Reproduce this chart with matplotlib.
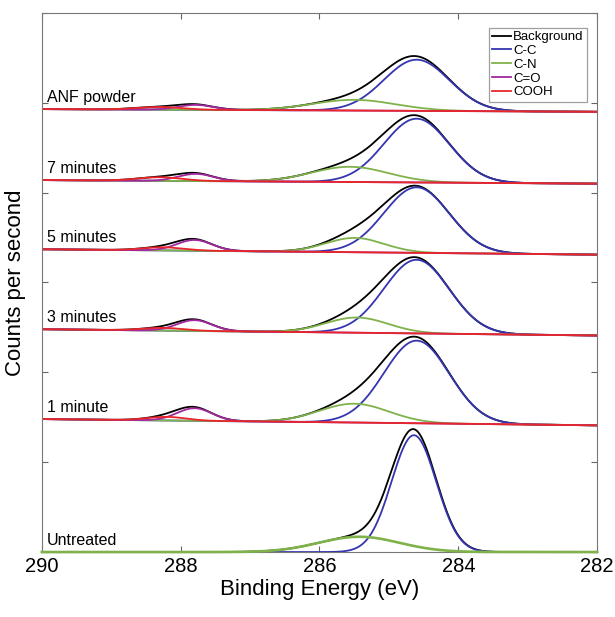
import numpy as np
import matplotlib
matplotlib.use('Agg')
import matplotlib.pyplot as plt

plt.rcParams['font.family'] = ['Liberation Sans', 'DejaVu Sans']

# spectra, bottom to top (y in stacked offset units, one tick = 1)
labels = ['Untreated', '1 minute', '3 minutes', '5 minutes', '7 minutes', 'ANF powder']
bg_left = [0.0, 1.48, 2.48, 3.37, 4.14, 4.93]    # background at 290 eV
bg_right = [0.0, 1.41, 2.41, 3.31, 4.10, 4.90]   # background at 282 eV

# fitted components: centre (eV), height, width (sigma, eV)
cc_pos = [284.64, 284.60, 284.60, 284.60, 284.60, 284.60]
cc_amp = [1.30, 0.92, 0.82, 0.73, 0.71, 0.57]
cc_sig = [0.32, 0.47, 0.47, 0.47, 0.47, 0.47]

cn_pos = [285.43, 285.50, 285.46, 285.49, 285.56, 285.50]
cn_amp = [0.17, 0.21, 0.17, 0.16, 0.17, 0.12]
cn_sig = [0.58, 0.50, 0.45, 0.42, 0.55, 0.60]

co_pos = [287.80, 287.80, 287.80, 287.80, 287.78, 287.78]
co_amp = [0.0, 0.14, 0.12, 0.12, 0.08, 0.055]
co_sig = [0.25, 0.25, 0.25, 0.25, 0.25, 0.25]

cooh_pos = [288.20, 288.20, 288.25, 288.25, 288.30, 288.30]
cooh_amp = [0.0, 0.04, 0.03, 0.035, 0.04, 0.03]
cooh_sig = [0.28, 0.28, 0.30, 0.30, 0.32, 0.32]

xticks = [290, 288, 286, 284, 282]

c_env = 'black'
c_cc = '#3535b0'
c_cn = '#7fb24a'
c_co = '#a3279e'
c_cooh = '#e8262a'


def peak(x, p, a, s):
    return a * np.exp(-(x - p) ** 2 / (2 * s ** 2))


x = np.linspace(282, 290, 600)

fig = plt.figure(figsize=(6.15, 6.17), dpi=100)
ax = fig.add_axes([0.068, 0.1053, 0.903, 0.8737])

lw = 1.3
for i, lab in enumerate(labels):
    bg = bg_right[i] + (bg_left[i] - bg_right[i]) * (x - 282) / 8.0
    cc = peak(x, cc_pos[i], cc_amp[i], cc_sig[i])
    cn = peak(x, cn_pos[i], cn_amp[i], cn_sig[i])
    co = peak(x, co_pos[i], co_amp[i], co_sig[i])
    cooh = peak(x, cooh_pos[i], cooh_amp[i], cooh_sig[i])
    env = bg + cc + cn + co + cooh
    first = (i == len(labels) - 1)
    ax.plot(x, env, color=c_env, lw=lw, label='Background' if first else None)
    ax.plot(x, bg + cc, color=c_cc, lw=lw, label='C-C' if first else None)
    if co_amp[i] > 0:
        ax.plot(x, bg + cn, color=c_cn, lw=lw, label='C-N' if first else None)
        ax.plot(x, bg + co, color=c_co, lw=lw, label='C=O' if first else None)
        ax.plot(x, bg + cooh, color=c_cooh, lw=lw, label='COOH' if first else None)
    else:
        ax.plot(x, bg + cn, color=c_cn, lw=lw + 0.6, zorder=3, clip_on=False)
    ax.text(289.93, bg_left[i] + 0.045, lab, fontsize=11.5, ha='left', va='bottom')

ax.set_xlim(290, 282)
ax.set_ylim(0, 6)
ax.set_xticks(xticks)
ax.set_xticklabels([str(t) for t in xticks], fontsize=14.5)
ax.set_yticks(range(0, 7))
ax.set_yticklabels([])
ax.tick_params(direction='in', top=True, right=True, length=4, color='#666666')
for sp in ax.spines.values():
    sp.set_color('#777777')
ax.set_xlabel('Binding Energy (eV)', fontsize=16, labelpad=2)
ax.set_ylabel('Counts per second', fontsize=16, labelpad=8)

leg = ax.legend(loc='upper right', fontsize=9.5, handlelength=1.4, handletextpad=0.15,
                labelspacing=0.12, borderpad=0.25, fancybox=False,
                bbox_to_anchor=(0.993, 0.985))
leg.get_frame().set_edgecolor('#888888')
leg.get_frame().set_linewidth(0.9)

fig.savefig('out.png', dpi=100)
